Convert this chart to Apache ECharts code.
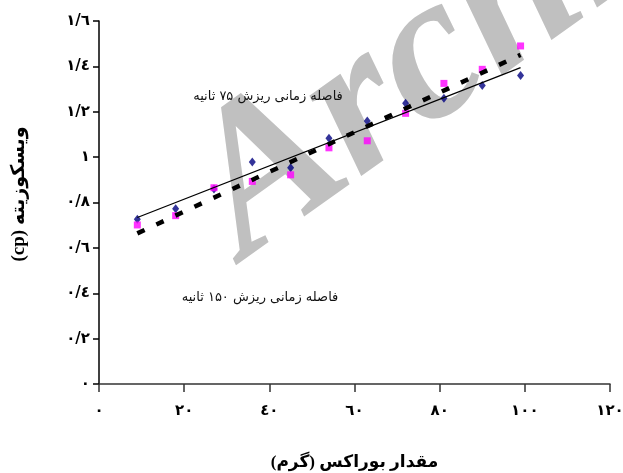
<!DOCTYPE html>
<html>
<head>
<meta charset="utf-8">
<script src="https://cdn.jsdelivr.net/npm/echarts@6/dist/echarts.min.js"></script>
<style>
html,body{margin:0;padding:0;background:#fff;}
#chart{width:623px;height:473px;}
</style>
</head>
<body>
<div id="chart"></div>
<script>
// Borax amount (g)
const boraxAmounts = [9, 18, 27, 36, 45, 54, 63, 72, 81, 90, 99];
// Viscosity (cp), pouring interval 75 s (navy diamonds, solid trend)
const viscosity75 = [0.726, 0.773, 0.86, 0.978, 0.953, 1.083, 1.159, 1.237, 1.259, 1.316, 1.360];
// Viscosity (cp), pouring interval 150 s (magenta squares, dashed trend)
const viscosity150 = [0.701, 0.742, 0.865, 0.893, 0.922, 1.041, 1.072, 1.193, 1.325, 1.387, 1.490];
// Tick labels
const xTickValues = [0, 20, 40, 60, 80, 100, 120];
const xTickLabels = ['٠', '٢٠', '٤٠', '٦٠', '٨٠', '١٠٠', '١٢٠'];
const yTickValues = [0, 0.2, 0.4, 0.6, 0.8, 1, 1.2, 1.4, 1.6];
const yTickLabels = ['٠', '٠/٢', '٠/٤', '٠/٦', '٠/٨', '١', '١/٢', '١/٤', '١/٦'];
// Texts
const xTitle = 'مقدار بوراکس (گرم)';
const yTitle = 'ویسکوزیته (cp)';
const note75 = 'فاصله زمانی ریزش ۷۵ ثانیه';
const note150 = 'فاصله زمانی ریزش ۱۵۰ ثانیه';
const watermark = 'Archive';

function pairs(xs, ys) { return xs.map((x, i) => [x, ys[i]]); }
function trend(xs, ys) {
  const n = xs.length;
  const mx = xs.reduce((a, b) => a + b, 0) / n;
  const my = ys.reduce((a, b) => a + b, 0) / n;
  let sxy = 0, sxx = 0;
  for (let i = 0; i < n; i++) { sxy += (xs[i] - mx) * (ys[i] - my); sxx += (xs[i] - mx) * (xs[i] - mx); }
  const b = sxy / sxx, a = my - b * mx;
  const x0 = Math.min(...xs), x1 = Math.max(...xs);
  return [[x0, a + b * x0], [x1, a + b * x1]];
}
function lbl(values, labels) {
  return function (v) {
    for (let i = 0; i < values.length; i++) if (Math.abs(values[i] - v) < 1e-6) return labels[i];
    return '';
  };
}
const RLE = '\u202B', PDF = '\u202C';
const arabicFont = '"DejaVu Sans", sans-serif';
const titleFont = '"Liberation Serif", "DejaVu Sans", serif';

const chart = echarts.init(document.getElementById('chart'), null, {renderer: 'canvas'});
chart.setOption({
  animation: false,
  backgroundColor: '#ffffff',
  grid: {left: 99, right: 13, top: 21, bottom: 89, containLabel: false, outerBoundsMode: 'none'},
  xAxis: {
    type: 'value', min: 0, max: 120, interval: 20,
    splitLine: {show: false},
    axisLine: {show: true, onZero: false, lineStyle: {color: '#333', width: 1.5}},
    axisTick: {show: true, length: 8, lineStyle: {color: '#333', width: 1.5}},
    axisLabel: {formatter: lbl(xTickValues, xTickLabels), margin: 20, color: '#000',
      fontWeight: 'bold', fontSize: 15, fontFamily: arabicFont},
    name: RLE + xTitle + PDF, nameLocation: 'middle', nameGap: 70,
    nameTextStyle: {color: '#000', fontWeight: 'bold', fontSize: 17, fontFamily: titleFont}
  },
  yAxis: {
    type: 'value', min: 0, max: 1.6, interval: 0.2,
    splitLine: {show: false},
    axisLine: {show: true, onZero: false, lineStyle: {color: '#000', width: 1.5}},
    axisTick: {show: true, length: 6, lineStyle: {color: '#000', width: 1.5}},
    axisLabel: {formatter: lbl(yTickValues, yTickLabels), margin: 9, color: '#000',
      fontWeight: 'bold', fontSize: 15, fontFamily: arabicFont}
  },
  graphic: [
    {type: 'text', x: 274, y: 300, rotation: 0.62, z: -10, silent: true,
      style: {text: watermark, font: 'italic bold 208px "Liberation Serif"', fill: '#c0c0c0',
        textAlign: 'left', textVerticalAlign: 'bottom'}},
    {type: 'text', x: 19, y: 194, rotation: Math.PI / 2, z: 10,
      style: {text: RLE + yTitle + PDF, font: 'bold 19px ' + titleFont, fill: '#000',
        textAlign: 'center', textVerticalAlign: 'middle'}},
    {type: 'text', x: 268, y: 97, z: 10,
      style: {text: note75, font: '13px ' + arabicFont, fill: '#111', textAlign: 'center', textVerticalAlign: 'middle'}},
    {type: 'text', x: 260, y: 298, z: 10,
      style: {text: note150, font: '13px ' + arabicFont, fill: '#111', textAlign: 'center', textVerticalAlign: 'middle'}}
  ],
  series: [
    {type: 'scatter', name: '75', data: pairs(boraxAmounts, viscosity75),
      symbol: 'diamond', symbolSize: [7, 9], itemStyle: {color: '#000080'}, z: 3},
    {type: 'scatter', name: '150', data: pairs(boraxAmounts, viscosity150),
      symbol: 'rect', symbolSize: 7, itemStyle: {color: '#ff00ff'}, z: 4},
    {type: 'line', data: trend(boraxAmounts, viscosity75), showSymbol: false, symbol: 'none',
      lineStyle: {color: '#000', width: 1.3, type: 'solid'}, z: 5},
    {type: 'line', data: trend(boraxAmounts, viscosity150), showSymbol: false, symbol: 'none',
      lineStyle: {color: '#000', width: 4.5, type: [8, 13], cap: 'butt'}, z: 6}
  ]
});
</script>
</body>
</html>
